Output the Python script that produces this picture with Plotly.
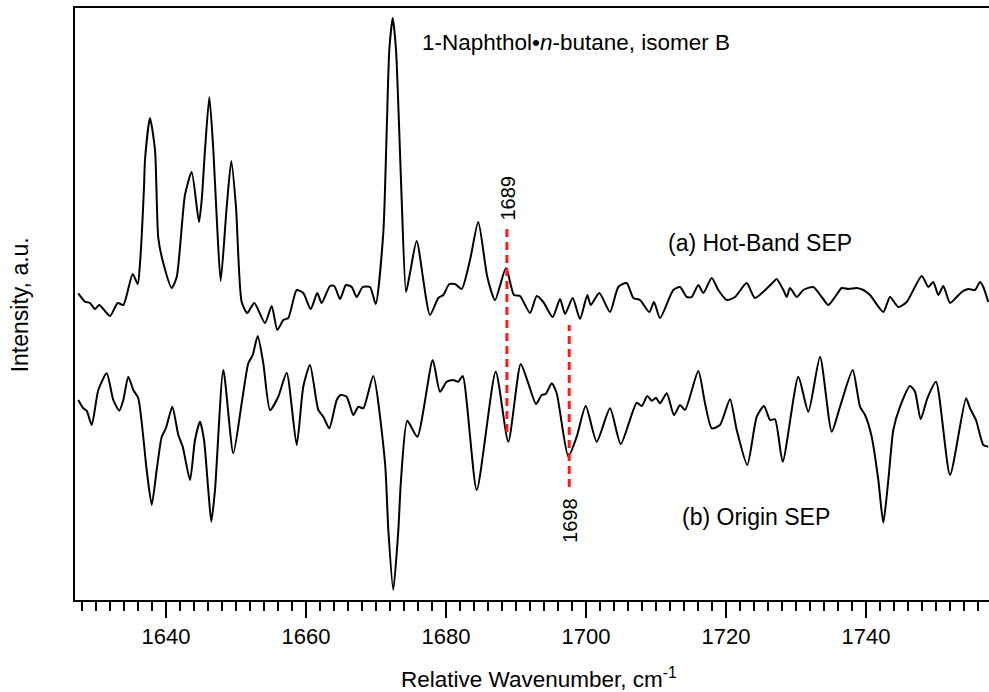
import plotly.graph_objects as go

# ---- data (relative wavenumber, cm-1 / intensity, a.u.) ----
wn_a = [1627.47, 1628.43, 1629.14, 1629.86, 1630.47, 1632.0, 1633.1, 1633.9, 1635.24, 1635.96,
        1636.29, 1636.86, 1637.0, 1637.71, 1638.43, 1638.9, 1639.61, 1640.81, 1641.53, 1642.71,
        1643.67, 1644.71, 1645.1, 1645.57, 1646.19, 1646.76, 1647.24, 1647.81, 1648.67, 1649.33,
        1650.0, 1650.81, 1651.61, 1652.61, 1654.14, 1655.1, 1655.9, 1656.76, 1657.47, 1658.67,
        1659.61, 1660.67, 1661.61, 1662.24, 1663.43, 1664.04, 1664.86, 1665.71, 1666.53, 1667.24,
        1668.1, 1669.14, 1669.96, 1671.04, 1671.52, 1671.9, 1672.39, 1672.86, 1673.33, 1673.67,
        1674.29, 1674.86, 1675.81, 1677.71, 1678.9, 1679.61, 1680.47, 1681.29, 1682.24, 1683.43,
        1684.61, 1685.9, 1687.0, 1688.57, 1689.71, 1690.57, 1692.0, 1692.96, 1693.9, 1695.24,
        1696.29, 1697.0, 1698.1, 1699.14, 1700.19, 1700.67, 1701.9, 1703.43, 1704.61, 1705.81,
        1706.76, 1707.71, 1709.04, 1709.71, 1710.57, 1712.47, 1713.43, 1714.39, 1715.1, 1716.04,
        1716.76, 1717.96, 1718.9, 1720.1, 1721.29, 1722.96, 1724.14, 1726.76, 1727.24, 1728.19,
        1728.67, 1729.14, 1730.1, 1731.04, 1732.47, 1733.67, 1734.61, 1735.57, 1736.53, 1737.47,
        1738.67, 1739.61, 1740.57, 1742.47, 1743.43, 1744.61, 1745.81, 1747.96, 1748.9, 1749.61,
        1750.33, 1751.04, 1752.0, 1752.96, 1753.67, 1754.61, 1755.57, 1756.29, 1756.76, 1757.47]
hot_band = [306.7, 298.3, 297, 291, 295, 284, 297, 295, 326, 316,
            337, 413, 440, 482, 450, 362, 337, 312, 323, 405,
            428, 378, 400, 450, 503, 450, 383, 319, 393, 439,
            393, 298, 287, 297, 277, 294, 270, 280, 282, 310,
            307, 291, 307, 297, 314, 314, 301, 315, 313, 303,
            313, 313, 296, 367, 467, 550, 582, 550, 467, 400,
            308, 327, 359, 285, 302, 305, 316, 316, 311, 340,
            378, 323, 300, 332, 305, 304, 287, 304, 298, 283,
            301, 286, 302, 281, 305, 295, 307, 288, 313, 317,
            302, 300, 288, 298, 282, 310, 313, 303, 303, 315,
            307, 322, 310, 300, 303, 317, 302, 318, 321, 310,
            303, 312, 303, 310, 313, 303, 295, 303, 312, 311,
            312, 310, 305, 288, 303, 293, 298, 324, 313, 318,
            305, 314, 297, 303, 308, 311, 310, 318, 313, 298]

wn_b = [1627.47, 1628.19, 1628.67, 1629.39, 1630.33, 1631.53, 1632.47, 1633.33, 1633.9, 1634.61,
        1635.33, 1636.04, 1637.24, 1637.96, 1638.67, 1639.39, 1640.0, 1640.9, 1641.76, 1642.39,
        1643.43, 1644.14, 1644.86, 1645.43, 1646.04, 1646.47, 1647.0, 1648.19, 1649.61, 1650.81,
        1651.76, 1652.39, 1653.1, 1653.9, 1654.86, 1656.04, 1657.24, 1658.67, 1659.61, 1660.57,
        1661.76, 1662.47, 1663.33, 1664.39, 1664.96, 1665.81, 1666.76, 1667.47, 1668.19, 1669.61,
        1671.29, 1671.76, 1672.47, 1673.19, 1673.57, 1674.47, 1675.9, 1678.1, 1679.14, 1680.1,
        1681.04, 1681.76, 1682.39, 1684.39, 1687.1, 1688.9, 1690.67, 1691.76, 1692.86, 1693.67,
        1694.24, 1695.1, 1695.81, 1697.47, 1698.67, 1699.96, 1701.53, 1703.43, 1704.96, 1707.24,
        1707.96, 1708.76, 1709.39, 1710.0, 1710.57, 1711.53, 1712.57, 1713.43, 1714.14, 1716.04,
        1717.0, 1717.96, 1719.14, 1720.57, 1721.53, 1723.04, 1724.39, 1725.43, 1726.29, 1727.0,
        1728.1, 1730.33, 1731.76, 1733.43, 1735.1, 1736.29, 1738.1, 1739.14, 1739.86, 1740.81,
        1741.76, 1742.47, 1743.19, 1743.9, 1744.86, 1746.29, 1747.0, 1747.81, 1748.76, 1750.0,
        1752.0, 1754.29, 1754.86, 1755.71, 1756.76, 1757.47]
origin = [200, 191.7, 189.3, 175, 210, 226.7, 200, 189.3, 200, 223.3,
          210, 201.7, 130, 95, 130, 163.3, 172, 193.3, 165, 153.3,
          120, 160, 178.3, 160, 110, 78.3, 110, 230, 146.7, 196.7,
          236.7, 245, 264, 236.7, 190, 203.3, 227.3, 155, 213.3, 235,
          190, 183.3, 171.7, 200, 205, 203.3, 185, 193.3, 191.7, 224,
          137, 70, 10, 70, 120, 179.3, 163.3, 240, 208.3, 218.3,
          220, 218.3, 224, 110, 228.3, 158.3, 236, 216.7, 196, 205,
          206, 216.7, 206.7, 143.3, 163.3, 194, 158.3, 191.7, 156, 197.3,
          194, 204, 199.3, 202.3, 196.7, 206.7, 185, 195, 190, 229,
          196.7, 171.7, 175, 200.7, 170, 135, 183.3, 194, 180, 180.7,
          138.3, 223.3, 188.3, 243.3, 168.3, 193.3, 230, 193.3, 185, 163.3,
          120, 77.3, 120, 170, 193.3, 214, 208.3, 180.7, 201.7, 218.3,
          125, 201.7, 191.7, 180, 155, 153.3]

marker_wn = [1688.7, 1697.6]
marker_labels = ["1689", "1698"]
marker_top = [372, 275]
marker_bottom = [168, 113]
marker_label_y = [402, 80]

x_ticks = [1640, 1660, 1680, 1700, 1720, 1740]

FONT = "Arial, Liberation Sans, sans-serif"

fig = go.Figure()
fig.add_trace(go.Scatter(x=wn_a, y=hot_band, mode="lines",
                         line=dict(color="black", width=2, shape="spline", smoothing=0.6),
                         showlegend=False, hoverinfo="skip"))
fig.add_trace(go.Scatter(x=wn_b, y=origin, mode="lines",
                         line=dict(color="black", width=2, shape="spline", smoothing=0.6),
                         showlegend=False, hoverinfo="skip"))

for xw, yt, yb in zip(marker_wn, marker_top, marker_bottom):
    fig.add_trace(go.Scatter(x=[xw, xw], y=[yb, yt], mode="lines",
                             line=dict(color="#ff1a1a", width=3, dash="8px,5px"),
                             showlegend=False, hoverinfo="skip"))

for xw, lab, ly in zip(marker_wn, marker_labels, marker_label_y):
    fig.add_annotation(x=xw + 0.1, y=ly, text=lab, textangle=-90, showarrow=False,
                       xanchor="center", yanchor="middle", font=dict(size=20, color="black", family=FONT))

fig.add_annotation(x=1676.3, y=558, text="1-Naphthol\u2022<i>n</i>-butane, isomer B", showarrow=False,
                   xanchor="left", yanchor="middle", font=dict(size=22.5, color="black", family=FONT))
fig.add_annotation(x=1711.4, y=357, text="(a) Hot-Band SEP", showarrow=False,
                   xanchor="left", yanchor="middle", font=dict(size=23, color="black", family=FONT))
fig.add_annotation(x=1713.4, y=83, text="(b) Origin SEP", showarrow=False,
                   xanchor="left", yanchor="middle", font=dict(size=23, color="black", family=FONT))

fig.add_annotation(xref="paper", yref="paper", x=0.508, y=-0.132,
                   text="Relative Wavenumber, cm<sup>-1</sup>", showarrow=False,
                   xanchor="center", yanchor="middle", font=dict(size=22.5, color="black", family=FONT))
fig.add_annotation(xref="paper", yref="paper", x=-0.06, y=0.498,
                   text="Intensity, a.u.", textangle=-90, showarrow=False,
                   xanchor="center", yanchor="middle", font=dict(size=23, color="black", family=FONT))

fig.update_layout(
    width=989, height=692,
    margin=dict(l=75, r=0, t=8, b=92, autoexpand=False),
    paper_bgcolor="white", plot_bgcolor="white",
    font=dict(family=FONT, color="black"),
    xaxis=dict(range=[1627, 1757.57], tickvals=x_ticks, ticktext=[str(v) for v in x_ticks],
               ticks="outside", ticklen=16, tickwidth=1.5, tickcolor="black",
               showline=True, linecolor="black", linewidth=2, mirror=True, automargin=False,
               showgrid=False, zeroline=False, tickfont=dict(size=22, color="black", family=FONT),
               ticklabelstandoff=0,
               minor=dict(dtick=2, tick0=1640, ticks="outside", ticklen=9, tickwidth=1.5,
                          tickcolor="black", showgrid=False)),
    yaxis=dict(range=[0, 592], showline=True, linecolor="black", linewidth=2, automargin=False,
               showticklabels=False, ticks="", showgrid=False, zeroline=False),
)

fig.write_html("out.html",
               config={"displayModeBar": False, "staticPlot": True},
               post_script="document.body.style.margin='0';document.body.style.overflow='hidden';")
